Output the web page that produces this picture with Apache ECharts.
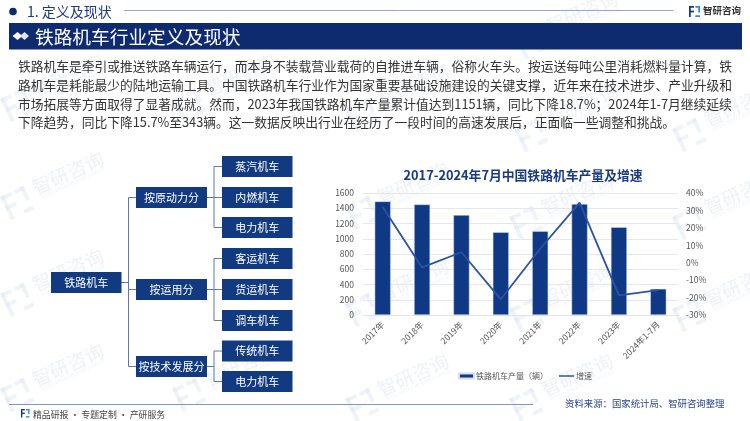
<!DOCTYPE html>
<html><head><meta charset="utf-8">
<style>html,body{margin:0;padding:0;background:#fff}#c{width:750px;height:421px}</style>
<script src="https://cdn.jsdelivr.net/npm/echarts@6/dist/echarts.min.js"></script>
</head><body><div id="c"></div>
<script>
const categories = ['2017年','2018年','2019年','2020年','2021年','2022年','2023年','2024年1-7月'];
const output = [1490,1450,1310,1085,1100,1455,1151,343];
const growth = [32,-2.7,6,-21,8,34.5,-18.7,-15.7];
const leftTicks = [0,200,400,600,800,1000,1200,1400,1600];
const rightTicks = [-30,-20,-10,0,10,20,30,40];
const bodyLines = [
 '铁路机车是牵引或推送铁路车辆运行，而本身不装载营业载荷的自推进车辆，俗称火车头。按运送每吨公里消耗燃料量计算，铁',
 '路机车是耗能最少的陆地运输工具。中国铁路机车行业作为国家重要基础设施建设的关键支撑，近年来在技术进步、产业升级和',
 '市场拓展等方面取得了显著成就。然而，2023年我国铁路机车产量累计值达到1151辆，同比下降18.7%；2024年1-7月继续延续',
 '下降趋势，同比下降15.7%至343辆。这一数据反映出行业在经历了一段时间的高速发展后，正面临一些调整和挑战。'
];
const rootNode = '铁路机车';
const branchNodes = ['按原动力分','按运用分','按技术发展分'];
const leafNodes = [['蒸汽机车','内燃机车','电力机车'],['客运机车','货运机车','调车机车'],['传统机车','电力机车']];

const FONT = '"Noto Sans CJK SC","Noto Sans",sans-serif';
const NAVY = '#0d2b6e', BOX = '#123a80', LINK = '#5f78b0';
const g = [];
function rect(x,y,w,h,fill,z){g.push({type:'rect',z:z==null?1:z,shape:{x,y,width:w,height:h},style:{fill}});}
function text(x,y,t,size,fill,o){o=o||{};g.push({type:'text',z:o.z==null?5:o.z,x,y,rotation:o.rot||0,style:{text:t,font:(o.bold?'bold ':'')+size+'px '+FONT,fill,textAlign:o.align||'left',textVerticalAlign:'middle',opacity:o.op==null?1:o.op}});}
function line(x1,y1,x2,y2,c,w){g.push({type:'line',z:2,shape:{x1,y1,x2,y2},style:{stroke:c,lineWidth:w||1}});}
function logo(x,y,s,c1,c2,rot,op){
  g.push({type:'group',x,y,rotation:rot||0,children:[
    {type:'rect',z:0,shape:{x:0,y:0,width:s*.45,height:s*.16},style:{fill:c1,opacity:op}},
    {type:'rect',z:0,shape:{x:0,y:0,width:s*.16,height:s},style:{fill:c1,opacity:op}},
    {type:'rect',z:0,shape:{x:0,y:s*.42,width:s*.45,height:s*.16},style:{fill:c1,opacity:op}},
    {type:'rect',z:0,shape:{x:s*.58,y:0,width:s*.42,height:s*.16},style:{fill:c2,opacity:op}},
    {type:'rect',z:0,shape:{x:s*.84,y:0,width:s*.16,height:s*.58},style:{fill:c2,opacity:op}},
    {type:'rect',z:0,shape:{x:s*.58,y:s*.84,width:s*.42,height:s*.16},style:{fill:c2,opacity:op}}
  ]});
}
// watermarks
[[68,75],[240,75],[413,85],[582,12],[582,105],[740,105],[68,173],[413,183],[577,193],[740,193],[68,270],[413,280],[577,285],[740,285],[68,365],[240,365],[413,375],[577,375]].forEach(p=>{
  text(p[0],p[1],'智研咨询',19,'#e3e9f2',{rot:0.42,z:0,align:'center',op:0.6});
  text(p[0]+5,p[1]+10,'INTELLIGENCE RESEARCH GROUP',4.5,'#e3e9f2',{rot:0.42,z:0,align:'center',op:0.6});
  logo(p[0]-68,p[1]+24,26,'#d3dfee','#d3dfee',0.45,0.35);
});
// header
g.push({type:'circle',z:3,shape:{cx:13,cy:11.5,r:3.8},style:{fill:NAVY}});
text(27,12,'1. 定义及现状',14,'#1d3a7c');
line(124,10.5,673,10.5,'#93a6cf',1);
logo(689,6,11,'#123a80','#2f8fd6',0,1);
text(703,10.5,'智研咨询',9.5,'#333',{bold:true});
rect(9,23,733,26.5,NAVY,1);
g.push({type:'polygon',z:3,shape:{points:[[12.5,36],[17.5,32],[22.5,36],[17.5,40]]},style:{fill:'#fff'}});
g.push({type:'polygon',z:3,shape:{points:[[20,36],[24.5,32],[29,36],[24.5,40]]},style:{fill:'#dfe6f2'}});
text(35,36.5,'铁路机车行业定义及现状',18.7,'#fff');
bodyLines.forEach((t,i)=>text(18,66.5+i*18.6,t,12.75,'#333'));
// tree
function box(x,y,w,h,t){rect(x,y,w,h,BOX,3);text(x+w/2,y+h/2,t,11,'#fff',{align:'center'});}
const leafTop=[[156,187,217],[248,279,310],[340.5,371]];
const branchTop=[187,279,356];
box(51,272,70.5,21,rootNode);
line(121,282.5,128.5,282.5,LINK,1);
line(128.5,197.5,128.5,366.5,LINK,1);
branchNodes.forEach((b,i)=>{
  box(136,branchTop[i],71,21,b);
  const cy=branchTop[i]+10.5;
  line(128.5,cy,136,cy,LINK,1);
  line(207,cy,214,cy,LINK,1);
  const ys=leafTop[i];
  line(214,ys[0]+10.5,214,ys[ys.length-1]+10.5,LINK,1);
  leafNodes[i].forEach((l,j)=>{box(222,ys[j],70.5,21,l);line(214,ys[j]+10.5,222,ys[j]+10.5,LINK,1);});
});
// footer
line(9,404.5,533,404.5,'#7f95c4',1);
logo(21,409,8.5,'#123a80','#2f8fd6',0,1);
text(33,415,'精品研报 · 专题定制 · 产研服务',8.9,'#444');
text(565,403,'资料来源：国家统计局、智研咨询整理',9.4,'#2a4488');

const chart = echarts.init(document.getElementById('c'),null,{renderer:'canvas'});
chart.setOption({
  animation:false,
  backgroundColor:'#fff',
  title:{text:'2017-2024年7月中国铁路机车产量及增速',left:518,top:161,textAlign:'center',
    textStyle:{fontFamily:FONT,fontSize:12.8,fontWeight:'bold',color:'#1a3a80',lineHeight:18}},
  grid:{left:363,top:193,width:315,height:122,containLabel:false},
  legend:{left:453,top:367,itemGap:11,itemWidth:15,itemHeight:5,
    textStyle:{fontFamily:FONT,fontSize:8,color:'#555',padding:[0,0,0,-3]},
    data:[{name:'铁路机车产量（辆）',icon:'rect'},{name:'增速',icon:'path://M0 45H100V55H0Z'}]},
  xAxis:{type:'category',data:categories,
    axisTick:{show:false},axisLine:{lineStyle:{color:'#dfe3ea'}},
    axisLabel:{rotate:45,interval:0,fontFamily:FONT,fontSize:8.5,color:'#555',margin:8}},
  yAxis:[
   {type:'value',min:leftTicks[0],max:leftTicks[leftTicks.length-1],interval:200,
    axisLine:{show:false},axisTick:{show:false},
    splitLine:{lineStyle:{color:'#e4e7ee',width:1}},
    axisLabel:{formatter:v=>String(v),fontFamily:FONT,fontSize:8.5,color:'#555',margin:9}},
   {type:'value',min:rightTicks[0],max:rightTicks[rightTicks.length-1],interval:10,
    axisLine:{show:false},axisTick:{show:false},splitLine:{show:false},
    axisLabel:{formatter:'{value}%',fontFamily:FONT,fontSize:8.5,color:'#555',margin:8}}
  ],
  series:[
   {name:'铁路机车产量（辆）',type:'bar',data:output,barWidth:16,z:2,
    itemStyle:{color:'#0f3885',borderColor:'#d5ddee',borderWidth:0.5}},
   {name:'增速',type:'line',yAxisIndex:1,data:growth,symbol:'none',z:3,
    lineStyle:{color:'#2c52a3',width:1.8},itemStyle:{color:'#2c52a3'}}
  ],
  graphic:{elements:g}
});
</script></body></html>
